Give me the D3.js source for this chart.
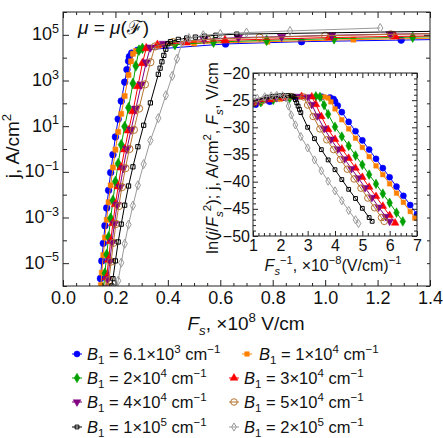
<!DOCTYPE html>
<html>
<head>
<meta charset="utf-8">
<script src="https://cdn.jsdelivr.net/npm/d3@7"></script>
<style>
  body { margin: 0; background: #fff; }
  svg { display: block; font-family: "Liberation Sans", Arial, sans-serif; }
</style>
</head>
<body>
<div id="chart"></div>
<script>
// Field F_s (x10^8 V/cm) and log10 of current density j (A/cm^2), one pair per B1

const field61e3 = [0.1389,0.1429,0.1481,0.1538,0.16,0.1667,0.1739,0.1818,0.1905,0.2,0.2105,0.2222,0.2353,0.2439,0.25,0.2532,0.262,0.284,0.62,0.91,1.29,1.45];
const lgj61e3   = [-6.30,-5.67,-4.90,-4.13,-3.36,-2.58,-1.81,-1.03,-0.25,0.53,1.31,2.10,2.93,3.48,3.85,4.04,4.20,4.32,4.60,4.70,4.77,4.80];

const field1e4 = [0.1445,0.1481,0.1538,0.16,0.1667,0.1739,0.1818,0.1905,0.2,0.2105,0.2222,0.2353,0.25,0.2597,0.2667,0.278,0.303,0.364,0.5,0.78,1.108,1.45];
const lgj1e4   = [-5.96,-5.42,-4.65,-3.88,-3.10,-2.33,-1.59,-0.81,-0.03,0.75,1.54,2.32,3.24,3.84,4.17,4.29,4.41,4.52,4.62,4.70,4.79,4.86];

const field2e4 = [0.1543,0.16,0.1667,0.1739,0.1818,0.1905,0.2,0.2105,0.2222,0.2353,0.25,0.2667,0.2778,0.2899,0.303,0.427,0.574,0.777,1.034,1.334,1.45];
const lgj2e4   = [-6.17,-5.44,-4.62,-3.85,-3.03,-2.25,-1.42,-0.64,0.19,0.98,1.81,2.87,3.64,4.33,4.41,4.57,4.68,4.76,4.83,4.90,4.92];

const field3e4 = [0.1613,0.1667,0.1739,0.1818,0.1905,0.2,0.2105,0.2222,0.2353,0.25,0.2667,0.2857,0.303,0.3175,0.36,0.47,0.618,1.015,1.267,1.45];
const lgj3e4   = [-6.26,-5.62,-4.85,-4.03,-3.25,-2.42,-1.64,-0.81,-0.02,0.81,1.65,2.75,3.76,4.41,4.56,4.66,4.76,4.88,4.93,4.96];

const field4e4 = [0.1667,0.1709,0.1786,0.1869,0.1961,0.2062,0.2174,0.2299,0.2439,0.2597,0.2778,0.2985,0.3175,0.3333,0.383,0.538,0.669,0.834,1.025,1.248,1.45];
const lgj4e4   = [-6.10,-5.69,-4.91,-4.09,-3.27,-2.44,-1.66,-0.83,0.01,0.85,1.77,2.83,3.80,4.45,4.61,4.80,4.88,4.92,4.98,5.03,5.06];

const field5e4 = [0.1724,0.1754,0.1835,0.1923,0.202,0.2128,0.2247,0.2381,0.2532,0.2703,0.2899,0.3125,0.3333,0.3509,0.42,0.55,0.75,1.0,1.25,1.45];
const lgj5e4   = [-6.07,-5.75,-4.93,-4.11,-3.28,-2.50,-1.67,-0.84,0.00,0.84,1.77,2.83,3.80,4.49,4.68,4.80,4.88,4.96,5.02,5.06];

const field1e5 = [0.1866,0.1905,0.2,0.2105,0.2222,0.2353,0.25,0.2667,0.2857,0.3077,0.3333,0.3636,0.3704,0.3774,0.3846,0.3922,0.4,0.41,0.44,0.472,0.505,0.54,0.583,0.663,1.45];
const lgj1e5   = [-6.00,-5.68,-4.90,-4.07,-3.29,-2.46,-1.62,-0.78,0.10,1.04,2.02,3.27,3.54,3.82,4.10,4.37,4.61,4.70,4.80,4.86,4.90,4.94,4.98,5.03,5.16];

const field2e5 = [0.2058,0.2105,0.2222,0.2353,0.25,0.2667,0.2857,0.3077,0.3333,0.3636,0.3922,0.4167,0.4348,0.4545,0.48,0.535,0.6,0.7,0.866,1.21];
const lgj2e5   = [-6.09,-5.77,-4.98,-4.15,-3.31,-2.48,-1.59,-0.66,0.37,1.35,2.35,3.20,3.95,4.65,4.86,4.98,5.04,5.10,5.17,5.30];

const legendMantissa = ["6.1", "1", "2", "3", "4", "5", "1", "2"];
const legendExponent = ["3", "4", "4", "4", "4", "4", "5", "5"];

const xTicks = [0, 0.2, 0.4, 0.6, 0.8, 1.0, 1.2, 1.4];
const yTicks = [1e-5, 1e-3, 1e-1, 1e1, 1e3, 1e5];
const insetXTicks = [1, 2, 3, 4, 5, 6, 7];
const insetYTicks = [-50, -45, -40, -35, -30, -25, -20];

// series table built from the arrays above
const fields = [field61e3, field1e4, field2e4, field3e4, field4e4, field5e4, field1e5, field2e5];
const lgjs   = [lgj61e3, lgj1e4, lgj2e4, lgj3e4, lgj4e4, lgj5e4, lgj1e5, lgj2e5];
const series = fields.map((f, i) => f.map((v, k) => ({ f: v, g: lgjs[i][k] })));

const colors  = ["#0000ff", "#ff8000", "#00a000", "#ff0000", "#800080", "#b5732f", "#000000", "#9a9a9a"];
const symbols = [d3.symbolCircle, d3.symbolSquare, d3.symbolDiamond, d3.symbolTriangle, d3.symbolTriangle,
                 d3.symbolCircle, d3.symbolSquare, d3.symbolDiamond];
const filled  = [true, true, true, true, true, false, false, false];
const sizes   = [36, 26, 34, 32, 32, 42, 18, 24];

const W = 443, H = 438;
const svg = d3.select("#chart").append("svg").attr("width", W).attr("height", H);

// helper for text with italics, sub- and superscripts
function rich(sel, parts, size) {
  let shift = 0;
  parts.forEach(p => {
    let target = 0, fs = size;
    if (p.sup) { target = -size * 0.42; fs = size * 0.7; }
    if (p.sub) { target = size * 0.28; fs = size * 0.7; }
    const ts = sel.append("tspan").text(p.t).attr("font-size", fs);
    if (target - shift !== 0) ts.attr("dy", target - shift);
    if (p.i) ts.attr("font-style", "italic");
    shift = target;
  });
}

function marker(g, i, cx, cy, scale) {
  let tr = `translate(${cx},${cy})`;
  if (i === 4) tr += " rotate(180)";
  g.append("path")
    .attr("d", d3.symbol(symbols[i], sizes[i] * scale)())
    .attr("transform", tr)
    .attr("fill", filled[i] ? colors[i] : "none")
    .attr("stroke", colors[i])
    .attr("stroke-width", filled[i] ? 0.5 : 1);
}

// ---------------- main plot ----------------
const x = d3.scaleLinear().domain([0, 1.4]).range([63, 430]);
const y = d3.scaleLog().domain([1e-6, 1e6]).range([286, 12]);

svg.append("clipPath").attr("id", "clipMain")
  .append("rect").attr("x", 63).attr("y", 12).attr("width", 367).attr("height", 274);

const main = svg.append("g").attr("clip-path", "url(#clipMain)");
const line = d3.line().x(d => x(d.f)).y(d => y(Math.pow(10, d.g)));

series.forEach((s, i) => {
  const g = main.append("g");
  g.append("path").attr("d", line(s)).attr("fill", "none")
    .attr("stroke", colors[i]).attr("stroke-width", 1);
  s.forEach(d => marker(g, i, x(d.f), y(Math.pow(10, d.g)), 1));
});

function styleAxis(g) {
  g.attr("font-size", null).attr("font-family", null);
  g.select(".domain").remove();
  g.selectAll(".tick line").attr("stroke", "#222");
}

const minorX = d3.range(0, 1.4001, 0.05).filter(v => Math.abs(v * 5 - Math.round(v * 5)) > 1e-6);
const minorY = d3.range(-6, 7).map(e => Math.pow(10, e)).filter(v => !yTicks.some(t => Math.abs(Math.log10(t) - Math.log10(v)) < 1e-6));

svg.append("g").attr("transform", "translate(0,286)")
  .call(d3.axisBottom(x).tickValues(xTicks).tickSize(-6).tickPadding(5).tickFormat(d3.format(".1f")))
  .call(styleAxis)
  .selectAll("text").attr("font-size", 18).attr("fill", "#111");
svg.append("g").attr("transform", "translate(0,286)")
  .call(d3.axisBottom(x).tickValues(minorX).tickSize(-3).tickFormat("")).call(styleAxis);
svg.append("g").attr("transform", "translate(0,12)")
  .call(d3.axisTop(x).tickValues(xTicks).tickSize(-6).tickFormat("")).call(styleAxis);
svg.append("g").attr("transform", "translate(0,12)")
  .call(d3.axisTop(x).tickValues(minorX).tickSize(-3).tickFormat("")).call(styleAxis);

const yAx = svg.append("g").attr("transform", "translate(63,0)")
  .call(d3.axisLeft(y).tickValues(yTicks).tickSize(-6).tickPadding(4).tickFormat(""))
  .call(styleAxis);
yAx.selectAll(".tick text").each(function(d) {
  const e = Math.round(Math.log10(d));
  const t = d3.select(this).attr("fill", "#111");
  rich(t, [{ t: "10" }, { t: (e < 0 ? "\u2212" : "") + Math.abs(e), sup: true }], 18);
});
svg.append("g").attr("transform", "translate(63,0)")
  .call(d3.axisLeft(y).tickValues(minorY).tickSize(-4).tickFormat("")).call(styleAxis);
svg.append("g").attr("transform", "translate(430,0)")
  .call(d3.axisRight(y).tickValues(yTicks).tickSize(-6).tickFormat("")).call(styleAxis);
svg.append("g").attr("transform", "translate(430,0)")
  .call(d3.axisRight(y).tickValues(minorY).tickSize(-4).tickFormat("")).call(styleAxis);

svg.append("rect").attr("x", 63).attr("y", 12).attr("width", 367).attr("height", 274)
  .attr("fill", "none").attr("stroke", "#222").attr("stroke-width", 1);

// axis titles
rich(svg.append("text").attr("x", 246).attr("y", 330).attr("text-anchor", "middle").attr("fill", "#111"),
  [{ t: "F", i: true }, { t: "s", i: true, sub: true }, { t: ", \u00d710" }, { t: "8", sup: true }, { t: " V/cm" }], 19);

rich(svg.append("text").attr("transform", "translate(19,146) rotate(-90)").attr("text-anchor", "middle").attr("fill", "#111"),
  [{ t: "j, A/cm" }, { t: "2", sup: true }], 19);

rich(svg.append("text").attr("x", 78).attr("y", 34).attr("fill", "#111"),
  [{ t: "\u03bc", i: true }, { t: " = " }, { t: "\u03bc", i: true }, { t: "(\u2131)" }], 19);

// ---------------- inset ----------------
const xi = d3.scaleLinear().domain([1, 7]).range([253, 417]);
const yi = d3.scaleLinear().domain([-50, -20]).range([236, 73]);
const insetY = d => d.g * Math.LN10 - 2 * Math.log(d.f * 1e8);

svg.append("rect").attr("x", 200).attr("y", 64).attr("width", 227).attr("height", 212).attr("fill", "#fff");

svg.append("clipPath").attr("id", "clipInset")
  .append("rect").attr("x", 253).attr("y", 73).attr("width", 164).attr("height", 163);

const inset = svg.append("g").attr("clip-path", "url(#clipInset)");
const iline = d3.line().x(d => xi(1 / d.f)).y(d => yi(insetY(d)));

series.forEach((s, i) => {
  const g = inset.append("g");
  g.append("path").attr("d", iline(s)).attr("fill", "none")
    .attr("stroke", colors[i]).attr("stroke-width", 1);
  s.forEach(d => marker(g, i, xi(1 / d.f), yi(insetY(d)), 0.8));
});

const minorIX = d3.range(1, 7.001, 0.2).filter(v => Math.abs(v - Math.round(v)) > 1e-6);
const minorIY = d3.range(-50, -19, 1).filter(v => v % 5 !== 0);

svg.append("g").attr("transform", "translate(0,236)")
  .call(d3.axisBottom(xi).tickValues(insetXTicks).tickSize(-5).tickPadding(4).tickFormat(d3.format("d")))
  .call(styleAxis)
  .selectAll("text").attr("font-size", 16).attr("fill", "#111");
svg.append("g").attr("transform", "translate(0,236)")
  .call(d3.axisBottom(xi).tickValues(minorIX).tickSize(-3).tickFormat("")).call(styleAxis);
svg.append("g").attr("transform", "translate(0,73)")
  .call(d3.axisTop(xi).tickValues(insetXTicks).tickSize(-5).tickFormat("")).call(styleAxis);
svg.append("g").attr("transform", "translate(0,73)")
  .call(d3.axisTop(xi).tickValues(minorIX).tickSize(-3).tickFormat("")).call(styleAxis);

svg.append("g").attr("transform", "translate(253,0)")
  .call(d3.axisLeft(yi).tickValues(insetYTicks).tickSize(-5).tickPadding(3).tickFormat(d3.format("d")))
  .call(styleAxis)
  .selectAll("text").attr("font-size", 16).attr("fill", "#111");
svg.append("g").attr("transform", "translate(253,0)")
  .call(d3.axisLeft(yi).tickValues(minorIY).tickSize(-3).tickFormat("")).call(styleAxis);
svg.append("g").attr("transform", "translate(417,0)")
  .call(d3.axisRight(yi).tickValues(insetYTicks).tickSize(-5).tickFormat("")).call(styleAxis);
svg.append("g").attr("transform", "translate(417,0)")
  .call(d3.axisRight(yi).tickValues(minorIY).tickSize(-3).tickFormat("")).call(styleAxis);

svg.append("rect").attr("x", 253).attr("y", 73).attr("width", 164).attr("height", 163)
  .attr("fill", "none").attr("stroke", "#222").attr("stroke-width", 1);

rich(svg.append("text").attr("x", 333).attr("y", 271).attr("text-anchor", "middle").attr("fill", "#111"),
  [{ t: "F", i: true }, { t: "s", i: true, sub: true }, { t: "\u22121", sup: true }, { t: ", \u00d710" },
   { t: "\u22128", sup: true }, { t: "(V/cm)" }, { t: "\u22121", sup: true }], 16);

rich(svg.append("text").attr("transform", "translate(218,158) rotate(-90)").attr("text-anchor", "middle").attr("fill", "#111"),
  [{ t: "ln(" }, { t: "j", i: true }, { t: "/" }, { t: "F", i: true }, { t: "s", i: true, sub: true },
   { t: "2", sup: true }, { t: "); j, A/cm" }, { t: "2", sup: true }, { t: ", " }, { t: "F", i: true },
   { t: "s", i: true, sub: true }, { t: ", V/cm" }], 16.5);

// ---------------- legend ----------------
const legendPos = [[77, 354], [247, 354], [77, 378], [234, 378], [77, 402], [234, 402], [77, 427], [234, 427]];
const legend = svg.append("g");
legendPos.forEach(([lx, ly], i) => {
  legend.append("line").attr("x1", lx - 5).attr("x2", lx + 5).attr("y1", ly).attr("y2", ly)
    .attr("stroke", colors[i]).attr("stroke-width", 1);
  marker(legend, i, lx, ly, 0.8);
  rich(legend.append("text").attr("x", lx + (i === 1 ? 12 : 10)).attr("y", ly + 5.5).attr("fill", "#111"),
    [{ t: "B", i: true }, { t: "1", sub: true }, { t: " = " + legendMantissa[i] + "\u00d710" },
     { t: legendExponent[i], sup: true }, { t: " cm" }, { t: "\u22121", sup: true }], 16.5);
});
</script>
</body>
</html>
